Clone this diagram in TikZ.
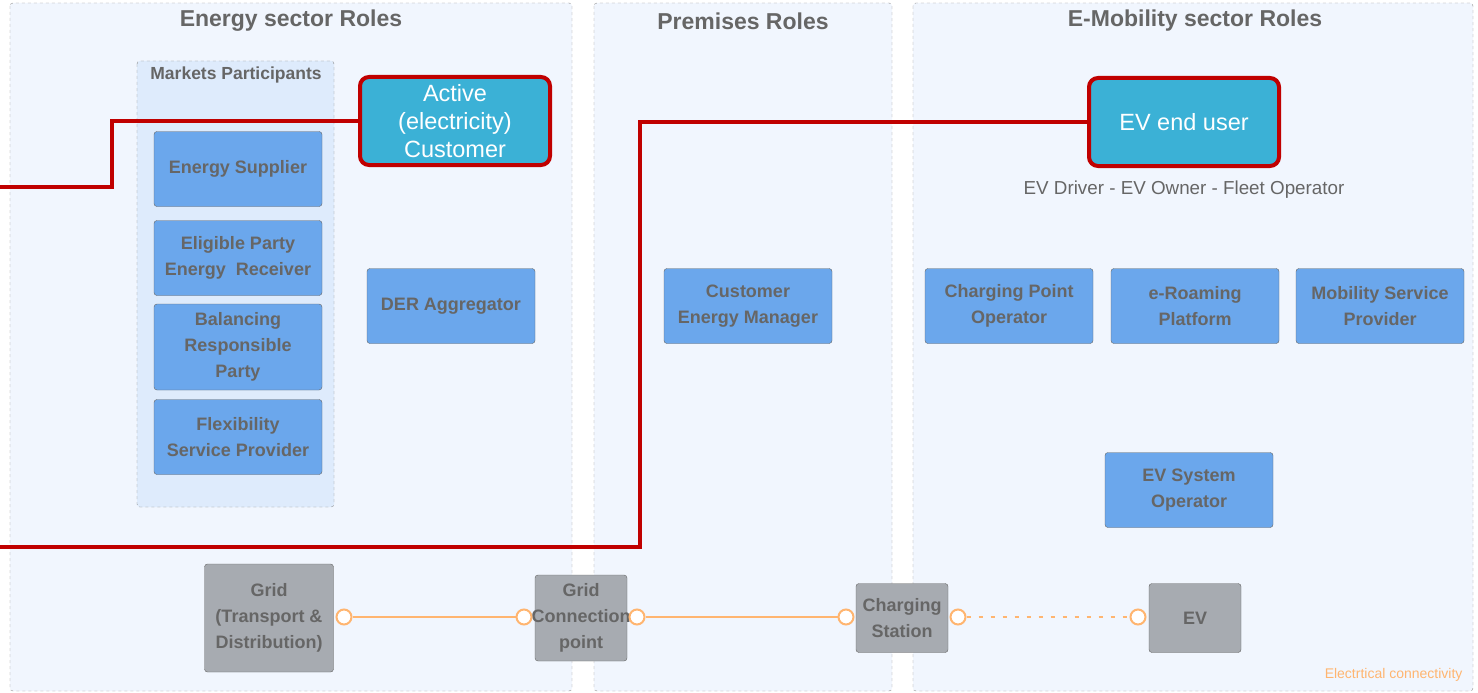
\documentclass[tikz,border=0pt]{standalone}
\usepackage{fontspec}
\setmainfont{Liberation Sans}
\usetikzlibrary{positioning}

\definecolor{panelfill}{HTML}{F1F6FE}
\definecolor{marketfill}{HTML}{DEEBFC}
\definecolor{rolefill}{HTML}{6BA7EC}
\definecolor{gridfill}{HTML}{A7ABB1}
\definecolor{custfill}{HTML}{3BB1D6}
\definecolor{txtgray}{HTML}{666666}
\definecolor{custred}{HTML}{C00000}
\definecolor{elecorange}{HTML}{FFB570}

\tikzset{
  panel/.style={draw=gray!85, dashed, fill=panelfill, rounded corners=3pt},
  market/.style={draw=gray!90, dashed, fill=marketfill, rounded corners=3pt},
  role/.style={draw=txtgray, fill=rolefill, rounded corners=3pt, text=txtgray,
    align=center, font=\bfseries\fontsize{18}{26}\selectfont,
    minimum width=168pt, minimum height=75pt, inner sep=2pt},
  gridbox/.style={role, fill=gridfill},
  cust/.style={draw=custred, line width=4pt, fill=custfill, rounded corners=9pt,
    text=white, align=center, font=\fontsize{23.5}{28}\selectfont,
    minimum width=190pt, minimum height=88pt},
  paneltitle/.style={text=txtgray, font=\bfseries\fontsize{23}{26}\selectfont},
  port/.style={circle, draw=elecorange, line width=2pt, fill=white,
    minimum size=15pt, inner sep=0pt},
  elec/.style={elecorange, line width=2pt},
  custlink/.style={custred, line width=4.5pt}
}

\begin{document}
\begin{tikzpicture}[x=1pt, y=-1pt]
\useasboundingbox (0,0) rectangle (1478,693);

% panels
\draw[panel] (10,3) rectangle (572,691);
\draw[panel] (594,3) rectangle (892,691);
\draw[panel] (913,3) rectangle (1473,691);
\node[paneltitle] (ttlenergy) at (291,21) {Energy sector Roles};
\node[paneltitle] (ttlprem) at (743,21) {Premises Roles};
\node[paneltitle] (ttlmob) at (1195,21) {E-Mobility sector Roles};

\draw[market] (137,61) rectangle (334,507);
\node[text=txtgray, font=\bfseries\fontsize{17.5}{20}\selectfont] (mkttl) at (236,75) {Markets Participants};

% energy sector
\node[role] (supplier) at (238,169) {Energy Supplier};
\node[role] (eligible) at (238,258) {Eligible Party\\Energy\ \ Receiver};
\node[role, minimum height=86pt] (brp) at (238,347) {Balancing\\Responsible\\Party};
\node[role] (fsp) at (238,437) {Flexibility\\Service Provider};
\node[role] (der) at (451,306) {DER Aggregator};
\node[cust] (active) at (455,121) {Active\\(electricity)\\Customer};

% premises
\node[role] (cem) at (748,306) {Customer\\Energy Manager};

% e-mobility
\node[cust] (evuser) at (1184,122) {EV end user};
\node[text=txtgray, font=\fontsize{18.8}{20}\selectfont, below=9pt of evuser] (evroles) {EV Driver - EV Owner - Fleet Operator};
\node[role] (cpo) at (1009,306) {Charging Point\\Operator};
\node[role] (eroam) at (1195,306) {e-Roaming\\Platform};
\node[role] (msp) at (1380,306) {Mobility Service\\Provider};
\node[role] (evso) at (1189,490) {EV System\\Operator};

% physical chain
\node[gridbox, minimum width=129pt, minimum height=108pt] (grid) at (269,618) {Grid\\(Transport \&\\Distribution)};
\node[gridbox, minimum width=0pt, text width=88pt, minimum height=86pt] (gcp) at (581,618) {Grid\\\makebox[88pt][c]{Connection}\\point};
\node[gridbox, minimum width=92pt, minimum height=69pt] (chst) at (902,618) {Charging\\Station};
\node[gridbox, minimum width=92pt, minimum height=69pt] (ev) at (1195,618) {EV};

\node[port] (p1) at (344,617) {};
\node[port] (p2) at (524,617) {};
\node[port] (p3) at (637,617) {};
\node[port] (p4) at (846,617) {};
\node[port] (p5) at (958,617) {};
\node[port] (p6) at (1138,617) {};
\draw[elec] (p1) -- (p2);
\draw[elec] (p3) -- (p4);
\draw[elec, dash pattern=on 4pt off 8pt] (p5) -- (p6);
\node[text=elecorange, font=\fontsize{14}{16}\selectfont, anchor=east] (eleclbl) at (1466,675) {Electrtical connectivity};

% customer links
\coordinate (in1) at (0,187);
\coordinate (in2) at (0,547);
\draw[custlink] (in1) -- ++(112,0) |- (active.west);
\draw[custlink] (in2) -- ++(640,0) |- (evuser.west);

\end{tikzpicture}
\end{document}
